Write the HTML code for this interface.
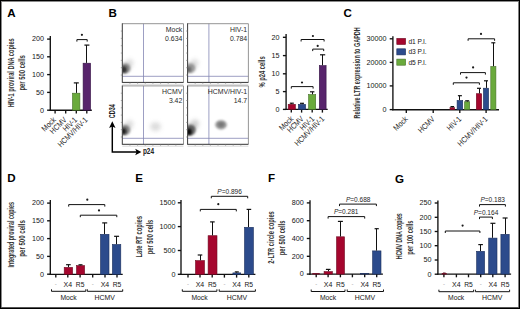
<!DOCTYPE html>
<html><head><meta charset="utf-8"><title>Figure</title>
<style>
html,body{margin:0;padding:0;background:#fff;}
body{width:520px;height:309px;overflow:hidden;}
svg{display:block;font-family:"Liberation Sans",sans-serif;}
</style></head>
<body>
<svg width="520" height="309" viewBox="0 0 520 309">
<rect x="0" y="0" width="520" height="309" fill="#fff"/>
<text x="7.3" y="17.2" font-size="11.6" font-weight="bold" fill="#000">A</text>
<text x="108.5" y="17.3" font-size="11.6" font-weight="bold" fill="#000">B</text>
<text x="343.4" y="17.4" font-size="11.6" font-weight="bold" fill="#000">C</text>
<text x="7.3" y="182.3" font-size="11.6" font-weight="bold" fill="#000">D</text>
<text x="135.3" y="182.4" font-size="11.6" font-weight="bold" fill="#000">E</text>
<text x="268.1" y="182.4" font-size="11.6" font-weight="bold" fill="#000">F</text>
<text x="395.1" y="182.5" font-size="11.6" font-weight="bold" fill="#000">G</text>
<line x1="50.3" y1="36" x2="50.3" y2="110.88" stroke="#111" stroke-width="1.35"/>
<line x1="47.1" y1="110.2" x2="50.3" y2="110.2" stroke="#111" stroke-width="1.35"/>
<text x="44" y="112.55" font-size="7" text-anchor="end" fill="#151515" font-weight="normal" textLength="4" lengthAdjust="spacingAndGlyphs" style="">0</text>
<line x1="47.1" y1="92.4" x2="50.3" y2="92.4" stroke="#111" stroke-width="1.35"/>
<text x="44" y="94.75" font-size="7" text-anchor="end" fill="#151515" font-weight="normal" textLength="8" lengthAdjust="spacingAndGlyphs" style="">50</text>
<line x1="47.1" y1="74.6" x2="50.3" y2="74.6" stroke="#111" stroke-width="1.35"/>
<text x="44" y="76.95" font-size="7" text-anchor="end" fill="#151515" font-weight="normal" textLength="12" lengthAdjust="spacingAndGlyphs" style="">100</text>
<line x1="47.1" y1="56.8" x2="50.3" y2="56.8" stroke="#111" stroke-width="1.35"/>
<text x="44" y="59.15" font-size="7" text-anchor="end" fill="#151515" font-weight="normal" textLength="12" lengthAdjust="spacingAndGlyphs" style="">150</text>
<line x1="47.1" y1="39.1" x2="50.3" y2="39.1" stroke="#111" stroke-width="1.35"/>
<text x="44" y="41.45" font-size="7" text-anchor="end" fill="#151515" font-weight="normal" textLength="12" lengthAdjust="spacingAndGlyphs" style="">200</text>
<line x1="49.62" y1="110.2" x2="91.8" y2="110.2" stroke="#111" stroke-width="1.35"/>
<line x1="55.1" y1="110.2" x2="55.1" y2="113.4" stroke="#111" stroke-width="1.35"/>
<line x1="65.7" y1="110.2" x2="65.7" y2="113.4" stroke="#111" stroke-width="1.35"/>
<line x1="76.3" y1="110.2" x2="76.3" y2="113.4" stroke="#111" stroke-width="1.35"/>
<line x1="86.8" y1="110.2" x2="86.8" y2="113.4" stroke="#111" stroke-width="1.35"/>
<rect x="72.5" y="93.2" width="7.4" height="17" fill="#6aaa3c" stroke="#456f27" stroke-width="0.6"/>
<line x1="76.5" y1="82.9" x2="76.5" y2="92.9" stroke="#111" stroke-width="1"/>
<line x1="73.8" y1="82.9" x2="78.8" y2="82.9" stroke="#111" stroke-width="1.2"/>
<rect x="83.1" y="63.2" width="7.5" height="47" fill="#58246c" stroke="#351545" stroke-width="0.6"/>
<line x1="86.5" y1="45.1" x2="86.5" y2="62.9" stroke="#111" stroke-width="1"/>
<line x1="84.4" y1="45.1" x2="89.4" y2="45.1" stroke="#111" stroke-width="1.2"/>
<path d="M76.9 41.6 V39.6 H87.2 V41.6" fill="none" stroke="#111" stroke-width="1"/>
<circle cx="81.9" cy="34.8" r="1.1" fill="#1a1a1a"/>
<text transform="translate(14.2,72.85) rotate(-90)" x="0" y="0" font-size="8.6" font-weight="bold" text-anchor="middle" fill="#333" textLength="68.9" lengthAdjust="spacingAndGlyphs">HIV-1 proviral DNA copies</text>
<text transform="translate(24.9,72.85) rotate(-90)" x="0" y="0" font-size="8.6" font-weight="bold" text-anchor="middle" fill="#333" textLength="35.3" lengthAdjust="spacingAndGlyphs">per 500 cells</text>
<text transform="translate(56.5,120.4) rotate(-45)" x="0" y="0" font-size="8" font-weight="normal" text-anchor="end" fill="#1e1e1e" textLength="16.56" lengthAdjust="spacingAndGlyphs">Mock</text>
<text transform="translate(67.1,120.4) rotate(-45)" x="0" y="0" font-size="8" font-weight="normal" text-anchor="end" fill="#1e1e1e" textLength="19.78" lengthAdjust="spacingAndGlyphs">HCMV</text>
<text transform="translate(77.7,120.4) rotate(-45)" x="0" y="0" font-size="8" font-weight="normal" text-anchor="end" fill="#1e1e1e" textLength="16.56" lengthAdjust="spacingAndGlyphs">HIV-1</text>
<text transform="translate(88.2,120.4) rotate(-45)" x="0" y="0" font-size="8" font-weight="normal" text-anchor="end" fill="#1e1e1e" textLength="38.64" lengthAdjust="spacingAndGlyphs">HCMV/HIV-1</text>
<defs><filter id="b2" x="-80%" y="-80%" width="260%" height="260%"><feGaussianBlur stdDeviation="2.0"/></filter><filter id="b1" x="-80%" y="-80%" width="260%" height="260%"><feGaussianBlur stdDeviation="1.3"/></filter><clipPath id="c1"><rect x="122.5" y="24" width="61" height="58.3"/></clipPath><clipPath id="c2"><rect x="188" y="24" width="60.5" height="58.3"/></clipPath><clipPath id="c3"><rect x="122.5" y="86.3" width="61" height="57.8"/></clipPath><clipPath id="c4"><rect x="188" y="86.3" width="60.5" height="57.8"/></clipPath></defs>
<g clip-path="url(#c1)">
<ellipse cx="128" cy="65" rx="6.5" ry="4" fill="#aaa" opacity="0.45" filter="url(#b2)" transform="rotate(-50 128 65)"/>
<ellipse cx="125.2" cy="68.4" rx="5.2" ry="5.2" fill="#6a6a6a" opacity="0.75" filter="url(#b1)"/>
<ellipse cx="123.8" cy="69.6" rx="3" ry="3.4" fill="#1a1a1a" opacity="0.8" filter="url(#b1)"/>
</g>
<line x1="143.5" y1="23.7" x2="143.5" y2="82.4" stroke="#8486b4" stroke-width="0.8"/>
<line x1="122.3" y1="76.3" x2="183.5" y2="76.3" stroke="#8486b4" stroke-width="0.8"/>
<line x1="122.3" y1="23.7" x2="183.5" y2="23.7" stroke="#8a8a8a" stroke-width="0.9"/>
<line x1="183.5" y1="23.7" x2="183.5" y2="82.4" stroke="#8a8a8a" stroke-width="0.9"/>
<line x1="122.3" y1="23.3" x2="122.3" y2="82.8" stroke="#3a3a3a" stroke-width="1"/>
<line x1="122.3" y1="82.4" x2="183.5" y2="82.4" stroke="#333" stroke-width="1"/>
<line x1="120.8" y1="31.04" x2="122.3" y2="31.04" stroke="#777" stroke-width="0.6"/>
<line x1="120.8" y1="38.38" x2="122.3" y2="38.38" stroke="#777" stroke-width="0.6"/>
<line x1="120.8" y1="45.71" x2="122.3" y2="45.71" stroke="#777" stroke-width="0.6"/>
<line x1="120.8" y1="53.05" x2="122.3" y2="53.05" stroke="#777" stroke-width="0.6"/>
<line x1="120.8" y1="60.39" x2="122.3" y2="60.39" stroke="#777" stroke-width="0.6"/>
<line x1="120.8" y1="67.73" x2="122.3" y2="67.73" stroke="#777" stroke-width="0.6"/>
<line x1="120.8" y1="75.06" x2="122.3" y2="75.06" stroke="#777" stroke-width="0.6"/>
<line x1="129.95" y1="82.4" x2="129.95" y2="83.9" stroke="#777" stroke-width="0.6"/>
<line x1="137.6" y1="82.4" x2="137.6" y2="83.9" stroke="#777" stroke-width="0.6"/>
<line x1="145.25" y1="82.4" x2="145.25" y2="83.9" stroke="#777" stroke-width="0.6"/>
<line x1="152.9" y1="82.4" x2="152.9" y2="83.9" stroke="#777" stroke-width="0.6"/>
<line x1="160.55" y1="82.4" x2="160.55" y2="83.9" stroke="#777" stroke-width="0.6"/>
<line x1="168.2" y1="82.4" x2="168.2" y2="83.9" stroke="#777" stroke-width="0.6"/>
<line x1="175.85" y1="82.4" x2="175.85" y2="83.9" stroke="#777" stroke-width="0.6"/>
<line x1="122.3" y1="84.3" x2="183.5" y2="84.3" stroke="#c8c8c8" stroke-width="0.7"/>
<text x="182.3" y="31.6" font-size="6.9" text-anchor="end" fill="#2a2a2a" font-weight="normal" style="">Mock</text>
<text x="182.3" y="40.9" font-size="6.9" text-anchor="end" fill="#2a2a2a" font-weight="normal" style="">0.634</text>
<g clip-path="url(#c2)">
<ellipse cx="193" cy="65" rx="6.5" ry="4" fill="#aaa" opacity="0.45" filter="url(#b2)" transform="rotate(-50 193 65)"/>
<ellipse cx="190.4" cy="68.3" rx="5" ry="5" fill="#777" opacity="0.65" filter="url(#b1)"/>
<ellipse cx="188.8" cy="69.5" rx="2.6" ry="3" fill="#444" opacity="0.6" filter="url(#b1)"/>
</g>
<line x1="208.9" y1="23.7" x2="208.9" y2="82.4" stroke="#8486b4" stroke-width="0.8"/>
<line x1="187.6" y1="76.3" x2="248.4" y2="76.3" stroke="#8486b4" stroke-width="0.8"/>
<line x1="187.6" y1="23.7" x2="248.4" y2="23.7" stroke="#8a8a8a" stroke-width="0.9"/>
<line x1="248.4" y1="23.7" x2="248.4" y2="82.4" stroke="#8a8a8a" stroke-width="0.9"/>
<line x1="187.6" y1="23.3" x2="187.6" y2="82.8" stroke="#3a3a3a" stroke-width="1"/>
<line x1="187.6" y1="82.4" x2="248.4" y2="82.4" stroke="#333" stroke-width="1"/>
<line x1="186.1" y1="31.04" x2="187.6" y2="31.04" stroke="#777" stroke-width="0.6"/>
<line x1="186.1" y1="38.38" x2="187.6" y2="38.38" stroke="#777" stroke-width="0.6"/>
<line x1="186.1" y1="45.71" x2="187.6" y2="45.71" stroke="#777" stroke-width="0.6"/>
<line x1="186.1" y1="53.05" x2="187.6" y2="53.05" stroke="#777" stroke-width="0.6"/>
<line x1="186.1" y1="60.39" x2="187.6" y2="60.39" stroke="#777" stroke-width="0.6"/>
<line x1="186.1" y1="67.73" x2="187.6" y2="67.73" stroke="#777" stroke-width="0.6"/>
<line x1="186.1" y1="75.06" x2="187.6" y2="75.06" stroke="#777" stroke-width="0.6"/>
<line x1="195.2" y1="82.4" x2="195.2" y2="83.9" stroke="#777" stroke-width="0.6"/>
<line x1="202.8" y1="82.4" x2="202.8" y2="83.9" stroke="#777" stroke-width="0.6"/>
<line x1="210.4" y1="82.4" x2="210.4" y2="83.9" stroke="#777" stroke-width="0.6"/>
<line x1="218" y1="82.4" x2="218" y2="83.9" stroke="#777" stroke-width="0.6"/>
<line x1="225.6" y1="82.4" x2="225.6" y2="83.9" stroke="#777" stroke-width="0.6"/>
<line x1="233.2" y1="82.4" x2="233.2" y2="83.9" stroke="#777" stroke-width="0.6"/>
<line x1="240.8" y1="82.4" x2="240.8" y2="83.9" stroke="#777" stroke-width="0.6"/>
<line x1="187.6" y1="84.3" x2="248.4" y2="84.3" stroke="#c8c8c8" stroke-width="0.7"/>
<text x="247.2" y="31.6" font-size="6.9" text-anchor="end" fill="#2a2a2a" font-weight="normal" style="">HIV-1</text>
<text x="247.2" y="40.9" font-size="6.9" text-anchor="end" fill="#2a2a2a" font-weight="normal" style="">0.784</text>
<g clip-path="url(#c3)">
<ellipse cx="128" cy="126" rx="6.5" ry="4" fill="#aaa" opacity="0.45" filter="url(#b2)" transform="rotate(-50 128 126)"/>
<ellipse cx="125" cy="130" rx="5.2" ry="5.2" fill="#646464" opacity="0.75" filter="url(#b1)"/>
<ellipse cx="123.6" cy="131.3" rx="2.8" ry="3.2" fill="#111" opacity="0.85" filter="url(#b1)"/>
<ellipse cx="155.5" cy="126.6" rx="5.4" ry="4.4" fill="#c4c4c4" opacity="0.6" filter="url(#b2)"/>
</g>
<line x1="143.5" y1="85.9" x2="143.5" y2="144.3" stroke="#8486b4" stroke-width="0.8"/>
<line x1="122.3" y1="138.3" x2="183.5" y2="138.3" stroke="#8486b4" stroke-width="0.8"/>
<line x1="122.3" y1="85.9" x2="183.5" y2="85.9" stroke="#8a8a8a" stroke-width="0.9"/>
<line x1="183.5" y1="85.9" x2="183.5" y2="144.3" stroke="#8a8a8a" stroke-width="0.9"/>
<line x1="122.3" y1="85.5" x2="122.3" y2="144.7" stroke="#3a3a3a" stroke-width="1"/>
<line x1="122.3" y1="144.3" x2="183.5" y2="144.3" stroke="#333" stroke-width="1"/>
<line x1="120.8" y1="93.2" x2="122.3" y2="93.2" stroke="#777" stroke-width="0.6"/>
<line x1="120.8" y1="100.5" x2="122.3" y2="100.5" stroke="#777" stroke-width="0.6"/>
<line x1="120.8" y1="107.8" x2="122.3" y2="107.8" stroke="#777" stroke-width="0.6"/>
<line x1="120.8" y1="115.1" x2="122.3" y2="115.1" stroke="#777" stroke-width="0.6"/>
<line x1="120.8" y1="122.4" x2="122.3" y2="122.4" stroke="#777" stroke-width="0.6"/>
<line x1="120.8" y1="129.7" x2="122.3" y2="129.7" stroke="#777" stroke-width="0.6"/>
<line x1="120.8" y1="137" x2="122.3" y2="137" stroke="#777" stroke-width="0.6"/>
<line x1="129.95" y1="144.3" x2="129.95" y2="145.8" stroke="#777" stroke-width="0.6"/>
<line x1="137.6" y1="144.3" x2="137.6" y2="145.8" stroke="#777" stroke-width="0.6"/>
<line x1="145.25" y1="144.3" x2="145.25" y2="145.8" stroke="#777" stroke-width="0.6"/>
<line x1="152.9" y1="144.3" x2="152.9" y2="145.8" stroke="#777" stroke-width="0.6"/>
<line x1="160.55" y1="144.3" x2="160.55" y2="145.8" stroke="#777" stroke-width="0.6"/>
<line x1="168.2" y1="144.3" x2="168.2" y2="145.8" stroke="#777" stroke-width="0.6"/>
<line x1="175.85" y1="144.3" x2="175.85" y2="145.8" stroke="#777" stroke-width="0.6"/>
<line x1="122.3" y1="146.2" x2="183.5" y2="146.2" stroke="#c8c8c8" stroke-width="0.7"/>
<text x="182.3" y="93.8" font-size="6.9" text-anchor="end" fill="#2a2a2a" font-weight="normal" style="">HCMV</text>
<text x="182.3" y="103.1" font-size="6.9" text-anchor="end" fill="#2a2a2a" font-weight="normal" style="">3.42</text>
<g clip-path="url(#c4)">
<ellipse cx="193.5" cy="125.5" rx="6.5" ry="4.2" fill="#999" opacity="0.5" filter="url(#b2)" transform="rotate(-50 193.5 125.5)"/>
<ellipse cx="190.3" cy="130" rx="5.4" ry="5.6" fill="#444" opacity="0.8" filter="url(#b1)"/>
<ellipse cx="189" cy="131.8" rx="2.8" ry="3.4" fill="#000" opacity="0.9" filter="url(#b1)"/>
<ellipse cx="221" cy="124.8" rx="5.8" ry="4.6" fill="#858585" opacity="0.85" filter="url(#b1)"/>
<ellipse cx="221" cy="124.6" rx="3" ry="2.4" fill="#555" opacity="0.5" filter="url(#b1)"/>
</g>
<line x1="208.9" y1="85.9" x2="208.9" y2="144.3" stroke="#8486b4" stroke-width="0.8"/>
<line x1="187.6" y1="138.3" x2="248.4" y2="138.3" stroke="#8486b4" stroke-width="0.8"/>
<line x1="187.6" y1="85.9" x2="248.4" y2="85.9" stroke="#8a8a8a" stroke-width="0.9"/>
<line x1="248.4" y1="85.9" x2="248.4" y2="144.3" stroke="#8a8a8a" stroke-width="0.9"/>
<line x1="187.6" y1="85.5" x2="187.6" y2="144.7" stroke="#3a3a3a" stroke-width="1"/>
<line x1="187.6" y1="144.3" x2="248.4" y2="144.3" stroke="#333" stroke-width="1"/>
<line x1="186.1" y1="93.2" x2="187.6" y2="93.2" stroke="#777" stroke-width="0.6"/>
<line x1="186.1" y1="100.5" x2="187.6" y2="100.5" stroke="#777" stroke-width="0.6"/>
<line x1="186.1" y1="107.8" x2="187.6" y2="107.8" stroke="#777" stroke-width="0.6"/>
<line x1="186.1" y1="115.1" x2="187.6" y2="115.1" stroke="#777" stroke-width="0.6"/>
<line x1="186.1" y1="122.4" x2="187.6" y2="122.4" stroke="#777" stroke-width="0.6"/>
<line x1="186.1" y1="129.7" x2="187.6" y2="129.7" stroke="#777" stroke-width="0.6"/>
<line x1="186.1" y1="137" x2="187.6" y2="137" stroke="#777" stroke-width="0.6"/>
<line x1="195.2" y1="144.3" x2="195.2" y2="145.8" stroke="#777" stroke-width="0.6"/>
<line x1="202.8" y1="144.3" x2="202.8" y2="145.8" stroke="#777" stroke-width="0.6"/>
<line x1="210.4" y1="144.3" x2="210.4" y2="145.8" stroke="#777" stroke-width="0.6"/>
<line x1="218" y1="144.3" x2="218" y2="145.8" stroke="#777" stroke-width="0.6"/>
<line x1="225.6" y1="144.3" x2="225.6" y2="145.8" stroke="#777" stroke-width="0.6"/>
<line x1="233.2" y1="144.3" x2="233.2" y2="145.8" stroke="#777" stroke-width="0.6"/>
<line x1="240.8" y1="144.3" x2="240.8" y2="145.8" stroke="#777" stroke-width="0.6"/>
<line x1="187.6" y1="146.2" x2="248.4" y2="146.2" stroke="#c8c8c8" stroke-width="0.7"/>
<text x="247.2" y="93.8" font-size="6.9" text-anchor="end" fill="#2a2a2a" font-weight="normal" style="">HCMV/HIV-1</text>
<text x="247.2" y="103.1" font-size="6.9" text-anchor="end" fill="#2a2a2a" font-weight="normal" style="">14.7</text>
<path d="M112.3 124.5 V152 H137.5" fill="none" stroke="#000" stroke-width="1.45"/>
<path d="M109.1 127.9 L112.3 121.2 L115.5 127.9 L112.3 126.6 Z" fill="#000"/>
<path d="M135.2 148.8 L141.4 152 L135.2 155.2 L136.6 152 Z" fill="#000"/>
<text transform="translate(115.0,111.2) rotate(-90)" font-size="9.0" font-weight="bold" text-anchor="middle" fill="#222" textLength="14.0" lengthAdjust="spacingAndGlyphs">CD34</text>
<text x="142.9" y="154.2" font-size="8.6" text-anchor="start" fill="#222" font-weight="bold" textLength="11.2" lengthAdjust="spacingAndGlyphs" style="">p24</text>
<line x1="286.1" y1="34.1" x2="286.1" y2="110.08" stroke="#111" stroke-width="1.35"/>
<line x1="282.9" y1="109.4" x2="286.1" y2="109.4" stroke="#111" stroke-width="1.35"/>
<text x="279.6" y="111.75" font-size="7" text-anchor="end" fill="#151515" font-weight="normal" textLength="4" lengthAdjust="spacingAndGlyphs" style="">0</text>
<line x1="282.9" y1="91.6" x2="286.1" y2="91.6" stroke="#111" stroke-width="1.35"/>
<text x="279.6" y="93.95" font-size="7" text-anchor="end" fill="#151515" font-weight="normal" textLength="4" lengthAdjust="spacingAndGlyphs" style="">5</text>
<line x1="282.9" y1="73.8" x2="286.1" y2="73.8" stroke="#111" stroke-width="1.35"/>
<text x="279.6" y="76.15" font-size="7" text-anchor="end" fill="#151515" font-weight="normal" textLength="8" lengthAdjust="spacingAndGlyphs" style="">10</text>
<line x1="282.9" y1="55.6" x2="286.1" y2="55.6" stroke="#111" stroke-width="1.35"/>
<text x="279.6" y="57.95" font-size="7" text-anchor="end" fill="#151515" font-weight="normal" textLength="8" lengthAdjust="spacingAndGlyphs" style="">15</text>
<line x1="282.9" y1="37.3" x2="286.1" y2="37.3" stroke="#111" stroke-width="1.35"/>
<text x="279.6" y="39.65" font-size="7" text-anchor="end" fill="#151515" font-weight="normal" textLength="8" lengthAdjust="spacingAndGlyphs" style="">20</text>
<line x1="285.43" y1="109.4" x2="327.7" y2="109.4" stroke="#111" stroke-width="1.35"/>
<line x1="291.3" y1="109.4" x2="291.3" y2="112.6" stroke="#111" stroke-width="1.35"/>
<line x1="301.6" y1="109.4" x2="301.6" y2="112.6" stroke="#111" stroke-width="1.35"/>
<line x1="312.2" y1="109.4" x2="312.2" y2="112.6" stroke="#111" stroke-width="1.35"/>
<line x1="322.4" y1="109.4" x2="322.4" y2="112.6" stroke="#111" stroke-width="1.35"/>
<rect x="288.2" y="104.3" width="7.2" height="5.1" fill="#a5062e" stroke="#6e0b22" stroke-width="0.6"/>
<line x1="291.5" y1="103.2" x2="291.5" y2="104" stroke="#111" stroke-width="1"/>
<line x1="289.8" y1="103.2" x2="293.8" y2="103.2" stroke="#111" stroke-width="1.2"/>
<rect x="298.4" y="104.4" width="7.2" height="5" fill="#2c4b8c" stroke="#1c2f5c" stroke-width="0.6"/>
<line x1="302.5" y1="103.3" x2="302.5" y2="104.1" stroke="#111" stroke-width="1"/>
<line x1="300" y1="103.3" x2="304" y2="103.3" stroke="#111" stroke-width="1.2"/>
<rect x="308.6" y="94.6" width="7.1" height="14.8" fill="#6aaa3c" stroke="#456f27" stroke-width="0.6"/>
<line x1="312.5" y1="91.8" x2="312.5" y2="94.3" stroke="#111" stroke-width="1"/>
<line x1="310" y1="91.8" x2="314.4" y2="91.8" stroke="#111" stroke-width="1.2"/>
<rect x="319.3" y="65.6" width="6.8" height="43.8" fill="#58246c" stroke="#351545" stroke-width="0.6"/>
<line x1="322.5" y1="54.8" x2="322.5" y2="65.3" stroke="#111" stroke-width="1"/>
<line x1="320" y1="54.8" x2="325.2" y2="54.8" stroke="#111" stroke-width="1.2"/>
<path d="M291.3 88.6 V86.6 H313.1 V88.6" fill="none" stroke="#111" stroke-width="1"/>
<circle cx="302" cy="82.5" r="1.1" fill="#1a1a1a"/>
<path d="M301.1 41.5 V39.5 H324.1 V41.5" fill="none" stroke="#111" stroke-width="1"/>
<circle cx="312.9" cy="36" r="1.1" fill="#1a1a1a"/>
<path d="M312.7 51.1 V49.1 H323.7 V51.1" fill="none" stroke="#111" stroke-width="1"/>
<circle cx="317.7" cy="45.9" r="1.1" fill="#1a1a1a"/>
<text transform="translate(265.2,71.95) rotate(-90)" x="0" y="0" font-size="8.6" font-weight="bold" text-anchor="middle" fill="#333" textLength="31.3" lengthAdjust="spacingAndGlyphs">% p24 cells</text>
<text transform="translate(293.9,119.3) rotate(-45)" x="0" y="0" font-size="8" font-weight="normal" text-anchor="end" fill="#1e1e1e" textLength="16.56" lengthAdjust="spacingAndGlyphs">Mock</text>
<text transform="translate(304.2,119.3) rotate(-45)" x="0" y="0" font-size="8" font-weight="normal" text-anchor="end" fill="#1e1e1e" textLength="19.78" lengthAdjust="spacingAndGlyphs">HCMV</text>
<text transform="translate(314.8,119.3) rotate(-45)" x="0" y="0" font-size="8" font-weight="normal" text-anchor="end" fill="#1e1e1e" textLength="16.56" lengthAdjust="spacingAndGlyphs">HIV-1</text>
<text transform="translate(325,119.3) rotate(-45)" x="0" y="0" font-size="8" font-weight="normal" text-anchor="end" fill="#1e1e1e" textLength="38.64" lengthAdjust="spacingAndGlyphs">HCMV/HIV-1</text>
<line x1="392.9" y1="36.2" x2="392.9" y2="110.27" stroke="#111" stroke-width="1.35"/>
<line x1="389.7" y1="109.6" x2="392.9" y2="109.6" stroke="#111" stroke-width="1.35"/>
<text x="386.4" y="111.95" font-size="7" text-anchor="end" fill="#151515" font-weight="normal" textLength="4" lengthAdjust="spacingAndGlyphs" style="">0</text>
<line x1="389.7" y1="85.9" x2="392.9" y2="85.9" stroke="#111" stroke-width="1.35"/>
<text x="386.4" y="88.25" font-size="7" text-anchor="end" fill="#151515" font-weight="normal" textLength="20" lengthAdjust="spacingAndGlyphs" style="">10000</text>
<line x1="389.7" y1="62.4" x2="392.9" y2="62.4" stroke="#111" stroke-width="1.35"/>
<text x="386.4" y="64.75" font-size="7" text-anchor="end" fill="#151515" font-weight="normal" textLength="20" lengthAdjust="spacingAndGlyphs" style="">20000</text>
<line x1="389.7" y1="38.8" x2="392.9" y2="38.8" stroke="#111" stroke-width="1.35"/>
<text x="386.4" y="41.15" font-size="7" text-anchor="end" fill="#151515" font-weight="normal" textLength="20" lengthAdjust="spacingAndGlyphs" style="">30000</text>
<line x1="392.22" y1="109.7" x2="499" y2="109.7" stroke="#111" stroke-width="1.35"/>
<line x1="406.3" y1="109.7" x2="406.3" y2="112.9" stroke="#111" stroke-width="1.35"/>
<line x1="433.2" y1="109.7" x2="433.2" y2="112.9" stroke="#111" stroke-width="1.35"/>
<line x1="459.8" y1="109.7" x2="459.8" y2="112.9" stroke="#111" stroke-width="1.35"/>
<line x1="486.1" y1="109.7" x2="486.1" y2="112.9" stroke="#111" stroke-width="1.35"/>
<rect x="396.8" y="38.4" width="8.8" height="6.1" fill="#a5062e" stroke="#6e0b22" stroke-width="0.6"/>
<rect x="396.8" y="48.8" width="8.8" height="6.1" fill="#2c4b8c" stroke="#1c2f5c" stroke-width="0.6"/>
<rect x="396.8" y="59.1" width="8.8" height="6.1" fill="#6aaa3c" stroke="#456f27" stroke-width="0.6"/>
<text x="408.4" y="44" font-size="6.6" text-anchor="start" fill="#151515" font-weight="normal" textLength="18.3" lengthAdjust="spacingAndGlyphs" style="">d1 P.I.</text>
<text x="408.4" y="54.4" font-size="6.6" text-anchor="start" fill="#151515" font-weight="normal" textLength="18.3" lengthAdjust="spacingAndGlyphs" style="">d3 P.I.</text>
<text x="408.4" y="64.7" font-size="6.6" text-anchor="start" fill="#151515" font-weight="normal" textLength="18.3" lengthAdjust="spacingAndGlyphs" style="">d5 P.I.</text>
<rect x="450" y="107.6" width="4.6" height="2.1" fill="#a5062e" stroke="#6e0b22" stroke-width="0.6"/>
<line x1="452.5" y1="106.6" x2="452.5" y2="107.3" stroke="#111" stroke-width="1"/>
<line x1="450.5" y1="106.6" x2="454.1" y2="106.6" stroke="#111" stroke-width="1.2"/>
<rect x="457.1" y="100.5" width="5.6" height="9.2" fill="#2c4b8c" stroke="#1c2f5c" stroke-width="0.6"/>
<line x1="459.5" y1="95.7" x2="459.5" y2="100.2" stroke="#111" stroke-width="1"/>
<line x1="457.9" y1="95.7" x2="461.9" y2="95.7" stroke="#111" stroke-width="1.2"/>
<rect x="464.6" y="101.8" width="5.1" height="7.9" fill="#6aaa3c" stroke="#456f27" stroke-width="0.6"/>
<line x1="467.5" y1="100.8" x2="467.5" y2="101.5" stroke="#111" stroke-width="1"/>
<line x1="465.2" y1="100.8" x2="469.2" y2="100.8" stroke="#111" stroke-width="1.2"/>
<rect x="476.3" y="93.7" width="5.4" height="16" fill="#a5062e" stroke="#6e0b22" stroke-width="0.6"/>
<line x1="479.5" y1="88.3" x2="479.5" y2="93.4" stroke="#111" stroke-width="1"/>
<line x1="477" y1="88.3" x2="481" y2="88.3" stroke="#111" stroke-width="1.2"/>
<rect x="483.4" y="88.2" width="5.2" height="21.5" fill="#2c4b8c" stroke="#1c2f5c" stroke-width="0.6"/>
<line x1="486.5" y1="80.8" x2="486.5" y2="87.9" stroke="#111" stroke-width="1"/>
<line x1="484" y1="80.8" x2="488" y2="80.8" stroke="#111" stroke-width="1.2"/>
<rect x="490.8" y="66.5" width="5.1" height="43.2" fill="#6aaa3c" stroke="#456f27" stroke-width="0.6"/>
<line x1="493.5" y1="42.8" x2="493.5" y2="66.2" stroke="#111" stroke-width="1"/>
<line x1="491.3" y1="42.8" x2="495.3" y2="42.8" stroke="#111" stroke-width="1.2"/>
<path d="M453.3 84.8 V82.8 H479.4 V84.8" fill="none" stroke="#111" stroke-width="1"/>
<circle cx="466.5" cy="77.6" r="1.1" fill="#1a1a1a"/>
<path d="M460.5 74.6 V72.6 H485.4 V74.6" fill="none" stroke="#111" stroke-width="1"/>
<circle cx="473.1" cy="67.4" r="1.1" fill="#1a1a1a"/>
<path d="M468.1 40.8 V38.8 H494.6 V40.8" fill="none" stroke="#111" stroke-width="1"/>
<circle cx="481" cy="33.9" r="1.1" fill="#1a1a1a"/>
<text transform="translate(360.3,72.85) rotate(-90)" x="0" y="0" font-size="8.6" font-weight="bold" text-anchor="middle" fill="#333" textLength="91.1" lengthAdjust="spacingAndGlyphs">Relative LTR expression to GAPDH</text>
<text transform="translate(408.3,119.6) rotate(-45)" x="0" y="0" font-size="8" font-weight="normal" text-anchor="end" fill="#1e1e1e" textLength="16.56" lengthAdjust="spacingAndGlyphs">Mock</text>
<text transform="translate(435.2,119.6) rotate(-45)" x="0" y="0" font-size="8" font-weight="normal" text-anchor="end" fill="#1e1e1e" textLength="19.78" lengthAdjust="spacingAndGlyphs">HCMV</text>
<text transform="translate(461.8,119.6) rotate(-45)" x="0" y="0" font-size="8" font-weight="normal" text-anchor="end" fill="#1e1e1e" textLength="16.56" lengthAdjust="spacingAndGlyphs">HIV-1</text>
<text transform="translate(488.1,119.6) rotate(-45)" x="0" y="0" font-size="8" font-weight="normal" text-anchor="end" fill="#1e1e1e" textLength="38.64" lengthAdjust="spacingAndGlyphs">HCMV/HIV-1</text>
<line x1="50.3" y1="200.1" x2="50.3" y2="274.98" stroke="#111" stroke-width="1.35"/>
<line x1="47.1" y1="274.2" x2="50.3" y2="274.2" stroke="#111" stroke-width="1.35"/>
<text x="44" y="276.55" font-size="7" text-anchor="end" fill="#151515" font-weight="normal" textLength="4" lengthAdjust="spacingAndGlyphs" style="">0</text>
<line x1="47.1" y1="256.4" x2="50.3" y2="256.4" stroke="#111" stroke-width="1.35"/>
<text x="44" y="258.75" font-size="7" text-anchor="end" fill="#151515" font-weight="normal" textLength="8" lengthAdjust="spacingAndGlyphs" style="">50</text>
<line x1="47.1" y1="238.6" x2="50.3" y2="238.6" stroke="#111" stroke-width="1.35"/>
<text x="44" y="240.95" font-size="7" text-anchor="end" fill="#151515" font-weight="normal" textLength="12" lengthAdjust="spacingAndGlyphs" style="">100</text>
<line x1="47.1" y1="220.8" x2="50.3" y2="220.8" stroke="#111" stroke-width="1.35"/>
<text x="44" y="223.15" font-size="7" text-anchor="end" fill="#151515" font-weight="normal" textLength="12" lengthAdjust="spacingAndGlyphs" style="">150</text>
<line x1="47.1" y1="203.1" x2="50.3" y2="203.1" stroke="#111" stroke-width="1.35"/>
<text x="44" y="205.45" font-size="7" text-anchor="end" fill="#151515" font-weight="normal" textLength="12" lengthAdjust="spacingAndGlyphs" style="">200</text>
<line x1="49.62" y1="274.3" x2="122.7" y2="274.3" stroke="#111" stroke-width="1.35"/>
<line x1="55.8" y1="274.3" x2="55.8" y2="277.5" stroke="#111" stroke-width="1.35"/>
<line x1="67.8" y1="274.3" x2="67.8" y2="277.5" stroke="#111" stroke-width="1.35"/>
<line x1="80.1" y1="274.3" x2="80.1" y2="277.5" stroke="#111" stroke-width="1.35"/>
<line x1="92.7" y1="274.3" x2="92.7" y2="277.5" stroke="#111" stroke-width="1.35"/>
<line x1="105" y1="274.3" x2="105" y2="277.5" stroke="#111" stroke-width="1.35"/>
<line x1="117" y1="274.3" x2="117" y2="277.5" stroke="#111" stroke-width="1.35"/>
<rect x="64.2" y="267.4" width="8.4" height="6.9" fill="#a5062e" stroke="#6e0b22" stroke-width="0.6"/>
<line x1="68.5" y1="264.7" x2="68.5" y2="267.1" stroke="#111" stroke-width="1"/>
<line x1="66.1" y1="264.7" x2="70.7" y2="264.7" stroke="#111" stroke-width="1.2"/>
<rect x="76.5" y="265.6" width="8.1" height="8.7" fill="#a5062e" stroke="#6e0b22" stroke-width="0.6"/>
<line x1="80.5" y1="264.8" x2="80.5" y2="265.3" stroke="#111" stroke-width="1"/>
<line x1="78.5" y1="264.8" x2="82.5" y2="264.8" stroke="#111" stroke-width="1.2"/>
<rect x="100.5" y="234.3" width="8.5" height="40" fill="#2c4b8c" stroke="#1c2f5c" stroke-width="0.6"/>
<line x1="104.5" y1="222.9" x2="104.5" y2="234" stroke="#111" stroke-width="1"/>
<line x1="102.2" y1="222.9" x2="107.2" y2="222.9" stroke="#111" stroke-width="1.2"/>
<rect x="112.4" y="244.5" width="8.4" height="29.8" fill="#2c4b8c" stroke="#1c2f5c" stroke-width="0.6"/>
<line x1="116.5" y1="236.3" x2="116.5" y2="244.2" stroke="#111" stroke-width="1"/>
<line x1="114.1" y1="236.3" x2="119.1" y2="236.3" stroke="#111" stroke-width="1.2"/>
<path d="M68.7 206.6 V204.6 H104.8 V206.6" fill="none" stroke="#111" stroke-width="1"/>
<circle cx="87.3" cy="199.7" r="1.1" fill="#1a1a1a"/>
<path d="M80.3 217.2 V215.2 H116.8 V217.2" fill="none" stroke="#111" stroke-width="1"/>
<circle cx="99" cy="210.4" r="1.1" fill="#1a1a1a"/>
<text transform="translate(14.2,234.85) rotate(-90)" x="0" y="0" font-size="8.6" font-weight="bold" text-anchor="middle" fill="#333" textLength="65.5" lengthAdjust="spacingAndGlyphs">Integrated proviral copies</text>
<text transform="translate(24.9,238.45) rotate(-90)" x="0" y="0" font-size="8.6" font-weight="bold" text-anchor="middle" fill="#333" textLength="36.5" lengthAdjust="spacingAndGlyphs">per 500 cells</text>
<text x="55.8" y="285.8" font-size="6" text-anchor="middle" fill="#9a9a9a" font-weight="normal" style="">-</text>
<text x="67.8" y="287" font-size="6.8" text-anchor="middle" fill="#151515" font-weight="normal" textLength="8.6" lengthAdjust="spacingAndGlyphs" style="">X4</text>
<text x="80.1" y="287" font-size="6.8" text-anchor="middle" fill="#151515" font-weight="normal" textLength="8.6" lengthAdjust="spacingAndGlyphs" style="">R5</text>
<text x="92.7" y="285.8" font-size="6" text-anchor="middle" fill="#9a9a9a" font-weight="normal" style="">-</text>
<text x="105" y="287" font-size="6.8" text-anchor="middle" fill="#151515" font-weight="normal" textLength="8.6" lengthAdjust="spacingAndGlyphs" style="">X4</text>
<text x="117" y="287" font-size="6.8" text-anchor="middle" fill="#151515" font-weight="normal" textLength="8.6" lengthAdjust="spacingAndGlyphs" style="">R5</text>
<path d="M51.5 289.3 V291.3 H85.8 V289.3" fill="none" stroke="#111" stroke-width="1"/>
<path d="M87.3 289.3 V291.3 H122.7 V289.3" fill="none" stroke="#111" stroke-width="1"/>
<text x="68.55" y="300.2" font-size="7" text-anchor="middle" fill="#151515" font-weight="normal" textLength="16.2" lengthAdjust="spacingAndGlyphs" style="">Mock</text>
<text x="104.6" y="300.2" font-size="7" text-anchor="middle" fill="#151515" font-weight="normal" textLength="20.4" lengthAdjust="spacingAndGlyphs" style="">HCMV</text>
<line x1="181" y1="199.9" x2="181" y2="275.07" stroke="#111" stroke-width="1.35"/>
<line x1="177.8" y1="274.3" x2="181" y2="274.3" stroke="#111" stroke-width="1.35"/>
<text x="175.6" y="276.65" font-size="7" text-anchor="end" fill="#151515" font-weight="normal" textLength="4" lengthAdjust="spacingAndGlyphs" style="">0</text>
<line x1="177.8" y1="250.5" x2="181" y2="250.5" stroke="#111" stroke-width="1.35"/>
<text x="175.6" y="252.85" font-size="7" text-anchor="end" fill="#151515" font-weight="normal" textLength="12" lengthAdjust="spacingAndGlyphs" style="">500</text>
<line x1="177.8" y1="226.6" x2="181" y2="226.6" stroke="#111" stroke-width="1.35"/>
<text x="175.6" y="228.95" font-size="7" text-anchor="end" fill="#151515" font-weight="normal" textLength="16" lengthAdjust="spacingAndGlyphs" style="">1000</text>
<line x1="177.8" y1="202.8" x2="181" y2="202.8" stroke="#111" stroke-width="1.35"/>
<text x="175.6" y="205.15" font-size="7" text-anchor="end" fill="#151515" font-weight="normal" textLength="16" lengthAdjust="spacingAndGlyphs" style="">1500</text>
<line x1="180.32" y1="274.4" x2="255.4" y2="274.4" stroke="#111" stroke-width="1.35"/>
<line x1="188" y1="274.4" x2="188" y2="277.6" stroke="#111" stroke-width="1.35"/>
<line x1="200" y1="274.4" x2="200" y2="277.6" stroke="#111" stroke-width="1.35"/>
<line x1="212.2" y1="274.4" x2="212.2" y2="277.6" stroke="#111" stroke-width="1.35"/>
<line x1="224.4" y1="274.4" x2="224.4" y2="277.6" stroke="#111" stroke-width="1.35"/>
<line x1="236.6" y1="274.4" x2="236.6" y2="277.6" stroke="#111" stroke-width="1.35"/>
<line x1="248.8" y1="274.4" x2="248.8" y2="277.6" stroke="#111" stroke-width="1.35"/>
<rect x="195.5" y="260.6" width="9" height="13.8" fill="#a5062e" stroke="#6e0b22" stroke-width="0.6"/>
<line x1="200.5" y1="255" x2="200.5" y2="260.3" stroke="#111" stroke-width="1"/>
<line x1="197.7" y1="255" x2="202.3" y2="255" stroke="#111" stroke-width="1.2"/>
<rect x="208.1" y="235.7" width="8.9" height="38.7" fill="#a5062e" stroke="#6e0b22" stroke-width="0.6"/>
<line x1="212.5" y1="221.9" x2="212.5" y2="235.4" stroke="#111" stroke-width="1"/>
<line x1="210.1" y1="221.9" x2="214.7" y2="221.9" stroke="#111" stroke-width="1.2"/>
<rect x="232.9" y="272.9" width="7.8" height="1.5" fill="#2c4b8c" stroke="#1c2f5c" stroke-width="0.6"/>
<line x1="236.5" y1="271.9" x2="236.5" y2="272.6" stroke="#111" stroke-width="1"/>
<line x1="234.8" y1="271.9" x2="238.8" y2="271.9" stroke="#111" stroke-width="1.2"/>
<rect x="244.5" y="227.3" width="8.9" height="47.1" fill="#2c4b8c" stroke="#1c2f5c" stroke-width="0.6"/>
<line x1="248.5" y1="209.4" x2="248.5" y2="227" stroke="#111" stroke-width="1"/>
<line x1="246.6" y1="209.4" x2="251.2" y2="209.4" stroke="#111" stroke-width="1.2"/>
<path d="M200.3 211.4 V209.4 H236.3 V211.4" fill="none" stroke="#111" stroke-width="1"/>
<circle cx="218.3" cy="204.2" r="1.1" fill="#1a1a1a"/>
<path d="M211.3 198.3 V196.3 H247.7 V198.3" fill="none" stroke="#111" stroke-width="1"/>
<text x="229.6" y="193.8" font-size="6.4" text-anchor="middle" fill="#1e1e1e" textLength="24.6" lengthAdjust="spacingAndGlyphs"><tspan font-style="italic">P</tspan>=0.896</text>
<text transform="translate(142.1,236.75) rotate(-90)" x="0" y="0" font-size="8.6" font-weight="bold" text-anchor="middle" fill="#333" textLength="41.5" lengthAdjust="spacingAndGlyphs">Late RT copies</text>
<text transform="translate(153.1,237) rotate(-90)" x="0" y="0" font-size="8.6" font-weight="bold" text-anchor="middle" fill="#333" textLength="34.4" lengthAdjust="spacingAndGlyphs">per 500 cells</text>
<text x="188" y="285.8" font-size="6" text-anchor="middle" fill="#9a9a9a" font-weight="normal" style="">-</text>
<text x="200" y="287" font-size="6.8" text-anchor="middle" fill="#151515" font-weight="normal" textLength="8.6" lengthAdjust="spacingAndGlyphs" style="">X4</text>
<text x="212.2" y="287" font-size="6.8" text-anchor="middle" fill="#151515" font-weight="normal" textLength="8.6" lengthAdjust="spacingAndGlyphs" style="">R5</text>
<text x="224.4" y="285.8" font-size="6" text-anchor="middle" fill="#9a9a9a" font-weight="normal" style="">-</text>
<text x="236.6" y="287" font-size="6.8" text-anchor="middle" fill="#151515" font-weight="normal" textLength="8.6" lengthAdjust="spacingAndGlyphs" style="">X4</text>
<text x="248.8" y="287" font-size="6.8" text-anchor="middle" fill="#151515" font-weight="normal" textLength="8.6" lengthAdjust="spacingAndGlyphs" style="">R5</text>
<path d="M182.3 289.3 V291.3 H216.9 V289.3" fill="none" stroke="#111" stroke-width="1"/>
<path d="M219.2 289.3 V291.3 H255.4 V289.3" fill="none" stroke="#111" stroke-width="1"/>
<text x="199.5" y="300.2" font-size="7" text-anchor="middle" fill="#151515" font-weight="normal" textLength="16.2" lengthAdjust="spacingAndGlyphs" style="">Mock</text>
<text x="236.9" y="300.2" font-size="7" text-anchor="middle" fill="#151515" font-weight="normal" textLength="20.4" lengthAdjust="spacingAndGlyphs" style="">HCMV</text>
<line x1="310" y1="200.3" x2="310" y2="274.78" stroke="#111" stroke-width="1.35"/>
<line x1="306.8" y1="274.1" x2="310" y2="274.1" stroke="#111" stroke-width="1.35"/>
<text x="303.8" y="276.45" font-size="7" text-anchor="end" fill="#151515" font-weight="normal" textLength="4" lengthAdjust="spacingAndGlyphs" style="">0</text>
<line x1="306.8" y1="256.3" x2="310" y2="256.3" stroke="#111" stroke-width="1.35"/>
<text x="303.8" y="258.65" font-size="7" text-anchor="end" fill="#151515" font-weight="normal" textLength="12" lengthAdjust="spacingAndGlyphs" style="">200</text>
<line x1="306.8" y1="238.5" x2="310" y2="238.5" stroke="#111" stroke-width="1.35"/>
<text x="303.8" y="240.85" font-size="7" text-anchor="end" fill="#151515" font-weight="normal" textLength="12" lengthAdjust="spacingAndGlyphs" style="">400</text>
<line x1="306.8" y1="220.7" x2="310" y2="220.7" stroke="#111" stroke-width="1.35"/>
<text x="303.8" y="223.05" font-size="7" text-anchor="end" fill="#151515" font-weight="normal" textLength="12" lengthAdjust="spacingAndGlyphs" style="">600</text>
<line x1="306.8" y1="202.9" x2="310" y2="202.9" stroke="#111" stroke-width="1.35"/>
<text x="303.8" y="205.25" font-size="7" text-anchor="end" fill="#151515" font-weight="normal" textLength="12" lengthAdjust="spacingAndGlyphs" style="">800</text>
<line x1="309.32" y1="274.1" x2="382.9" y2="274.1" stroke="#111" stroke-width="1.35"/>
<line x1="316.2" y1="274.1" x2="316.2" y2="277.3" stroke="#111" stroke-width="1.35"/>
<line x1="328.1" y1="274.1" x2="328.1" y2="277.3" stroke="#111" stroke-width="1.35"/>
<line x1="340.4" y1="274.1" x2="340.4" y2="277.3" stroke="#111" stroke-width="1.35"/>
<line x1="352.4" y1="274.1" x2="352.4" y2="277.3" stroke="#111" stroke-width="1.35"/>
<line x1="364.7" y1="274.1" x2="364.7" y2="277.3" stroke="#111" stroke-width="1.35"/>
<line x1="376.7" y1="274.1" x2="376.7" y2="277.3" stroke="#111" stroke-width="1.35"/>
<rect x="312.7" y="273.5" width="6.7" height="0.6" fill="#a5062e" stroke="#6e0b22" stroke-width="0.6"/>
<rect x="324.1" y="271.6" width="8.3" height="2.5" fill="#a5062e" stroke="#6e0b22" stroke-width="0.6"/>
<line x1="328.5" y1="269.4" x2="328.5" y2="271.3" stroke="#111" stroke-width="1"/>
<line x1="325.9" y1="269.4" x2="330.5" y2="269.4" stroke="#111" stroke-width="1.2"/>
<rect x="336.5" y="236.8" width="8" height="37.3" fill="#a5062e" stroke="#6e0b22" stroke-width="0.6"/>
<line x1="340.5" y1="221.4" x2="340.5" y2="236.5" stroke="#111" stroke-width="1"/>
<line x1="337.9" y1="221.4" x2="342.9" y2="221.4" stroke="#111" stroke-width="1.2"/>
<rect x="360.5" y="273.5" width="8.3" height="0.6" fill="#2c4b8c" stroke="#1c2f5c" stroke-width="0.6"/>
<rect x="372.6" y="250.9" width="8.4" height="23.2" fill="#2c4b8c" stroke="#1c2f5c" stroke-width="0.6"/>
<line x1="376.5" y1="228.7" x2="376.5" y2="250.6" stroke="#111" stroke-width="1"/>
<line x1="374.6" y1="228.7" x2="378.8" y2="228.7" stroke="#111" stroke-width="1.2"/>
<path d="M328.1 218.6 V216.6 H364.7 V218.6" fill="none" stroke="#111" stroke-width="1"/>
<text x="346.2" y="214" font-size="6.4" text-anchor="middle" fill="#1e1e1e" textLength="24.6" lengthAdjust="spacingAndGlyphs"><tspan font-style="italic">P</tspan>=0.281</text>
<path d="M339.5 206.1 V204.1 H376.4 V206.1" fill="none" stroke="#111" stroke-width="1"/>
<text x="358.2" y="201.5" font-size="6.4" text-anchor="middle" fill="#1e1e1e" textLength="24.6" lengthAdjust="spacingAndGlyphs"><tspan font-style="italic">P</tspan>=0.688</text>
<text transform="translate(274.3,237.45) rotate(-90)" x="0" y="0" font-size="8.6" font-weight="bold" text-anchor="middle" fill="#333" textLength="52.5" lengthAdjust="spacingAndGlyphs">2-LTR circle copies</text>
<text transform="translate(284.5,237.85) rotate(-90)" x="0" y="0" font-size="8.6" font-weight="bold" text-anchor="middle" fill="#333" textLength="34.7" lengthAdjust="spacingAndGlyphs">per 500 cells</text>
<text x="316.2" y="285.8" font-size="6" text-anchor="middle" fill="#9a9a9a" font-weight="normal" style="">-</text>
<text x="328.1" y="287" font-size="6.8" text-anchor="middle" fill="#151515" font-weight="normal" textLength="8.6" lengthAdjust="spacingAndGlyphs" style="">X4</text>
<text x="340.4" y="287" font-size="6.8" text-anchor="middle" fill="#151515" font-weight="normal" textLength="8.6" lengthAdjust="spacingAndGlyphs" style="">R5</text>
<text x="352.4" y="285.8" font-size="6" text-anchor="middle" fill="#9a9a9a" font-weight="normal" style="">-</text>
<text x="364.7" y="287" font-size="6.8" text-anchor="middle" fill="#151515" font-weight="normal" textLength="8.6" lengthAdjust="spacingAndGlyphs" style="">X4</text>
<text x="376.7" y="287" font-size="6.8" text-anchor="middle" fill="#151515" font-weight="normal" textLength="8.6" lengthAdjust="spacingAndGlyphs" style="">R5</text>
<path d="M311.2 289.5 V291.5 H345 V289.5" fill="none" stroke="#111" stroke-width="1"/>
<path d="M347.2 289.5 V291.5 H383.5 V289.5" fill="none" stroke="#111" stroke-width="1"/>
<text x="328" y="300.2" font-size="7" text-anchor="middle" fill="#151515" font-weight="normal" textLength="16.2" lengthAdjust="spacingAndGlyphs" style="">Mock</text>
<text x="364.95" y="300.2" font-size="7" text-anchor="middle" fill="#151515" font-weight="normal" textLength="20.4" lengthAdjust="spacingAndGlyphs" style="">HCMV</text>
<line x1="437.9" y1="200.4" x2="437.9" y2="274.78" stroke="#111" stroke-width="1.35"/>
<line x1="434.7" y1="274.2" x2="437.9" y2="274.2" stroke="#111" stroke-width="1.35"/>
<text x="431.6" y="276.55" font-size="7" text-anchor="end" fill="#151515" font-weight="normal" textLength="4" lengthAdjust="spacingAndGlyphs" style="">0</text>
<line x1="434.7" y1="260" x2="437.9" y2="260" stroke="#111" stroke-width="1.35"/>
<text x="431.6" y="262.35" font-size="7" text-anchor="end" fill="#151515" font-weight="normal" textLength="8" lengthAdjust="spacingAndGlyphs" style="">50</text>
<line x1="434.7" y1="245.7" x2="437.9" y2="245.7" stroke="#111" stroke-width="1.35"/>
<text x="431.6" y="248.05" font-size="7" text-anchor="end" fill="#151515" font-weight="normal" textLength="12" lengthAdjust="spacingAndGlyphs" style="">100</text>
<line x1="434.7" y1="231.5" x2="437.9" y2="231.5" stroke="#111" stroke-width="1.35"/>
<text x="431.6" y="233.85" font-size="7" text-anchor="end" fill="#151515" font-weight="normal" textLength="12" lengthAdjust="spacingAndGlyphs" style="">150</text>
<line x1="434.7" y1="217.3" x2="437.9" y2="217.3" stroke="#111" stroke-width="1.35"/>
<text x="431.6" y="219.65" font-size="7" text-anchor="end" fill="#151515" font-weight="normal" textLength="12" lengthAdjust="spacingAndGlyphs" style="">200</text>
<line x1="434.7" y1="203" x2="437.9" y2="203" stroke="#111" stroke-width="1.35"/>
<text x="431.6" y="205.35" font-size="7" text-anchor="end" fill="#151515" font-weight="normal" textLength="12" lengthAdjust="spacingAndGlyphs" style="">250</text>
<line x1="437.22" y1="274.1" x2="511.1" y2="274.1" stroke="#111" stroke-width="1.35"/>
<line x1="443.9" y1="274.1" x2="443.9" y2="277.3" stroke="#111" stroke-width="1.35"/>
<line x1="456.4" y1="274.1" x2="456.4" y2="277.3" stroke="#111" stroke-width="1.35"/>
<line x1="468.5" y1="274.1" x2="468.5" y2="277.3" stroke="#111" stroke-width="1.35"/>
<line x1="480.7" y1="274.1" x2="480.7" y2="277.3" stroke="#111" stroke-width="1.35"/>
<line x1="492.8" y1="274.1" x2="492.8" y2="277.3" stroke="#111" stroke-width="1.35"/>
<line x1="505.1" y1="274.1" x2="505.1" y2="277.3" stroke="#111" stroke-width="1.35"/>
<rect x="442.1" y="273.5" width="4.4" height="0.6" fill="#a5062e" stroke="#6e0b22" stroke-width="0.6"/>
<line x1="443" y1="272.9" x2="445.6" y2="272.9" stroke="#5a1020" stroke-width="0.8"/>
<rect x="476.6" y="251.3" width="8" height="22.8" fill="#2c4b8c" stroke="#1c2f5c" stroke-width="0.6"/>
<line x1="480.5" y1="244.6" x2="480.5" y2="251" stroke="#111" stroke-width="1"/>
<line x1="478.3" y1="244.6" x2="482.9" y2="244.6" stroke="#111" stroke-width="1.2"/>
<rect x="488.7" y="238.1" width="8.3" height="36" fill="#2c4b8c" stroke="#1c2f5c" stroke-width="0.6"/>
<line x1="492.5" y1="223.3" x2="492.5" y2="237.8" stroke="#111" stroke-width="1"/>
<line x1="490.4" y1="223.3" x2="495.4" y2="223.3" stroke="#111" stroke-width="1.2"/>
<rect x="500.9" y="234.3" width="8.3" height="39.8" fill="#2c4b8c" stroke="#1c2f5c" stroke-width="0.6"/>
<line x1="505.5" y1="218" x2="505.5" y2="234" stroke="#111" stroke-width="1"/>
<line x1="502.6" y1="218" x2="507.6" y2="218" stroke="#111" stroke-width="1.2"/>
<path d="M445.3 233 V231 H479.9 V233" fill="none" stroke="#111" stroke-width="1"/>
<circle cx="462.6" cy="225.6" r="1.1" fill="#1a1a1a"/>
<path d="M479.5 219.1 V217.1 H492.4 V219.1" fill="none" stroke="#111" stroke-width="1"/>
<text x="486" y="215" font-size="6.4" text-anchor="middle" fill="#1e1e1e" textLength="24.6" lengthAdjust="spacingAndGlyphs"><tspan font-style="italic">P</tspan>=0.164</text>
<path d="M479.5 206.6 V204.6 H505.4 V206.6" fill="none" stroke="#111" stroke-width="1"/>
<text x="492.7" y="202.3" font-size="6.4" text-anchor="middle" fill="#1e1e1e" textLength="24.6" lengthAdjust="spacingAndGlyphs"><tspan font-style="italic">P</tspan>=0.183</text>
<text transform="translate(402.2,236.3) rotate(-90)" x="0" y="0" font-size="8.6" font-weight="bold" text-anchor="middle" fill="#333" textLength="46" lengthAdjust="spacingAndGlyphs">HCMV DNA copies</text>
<text transform="translate(412.9,237.6) rotate(-90)" x="0" y="0" font-size="8.6" font-weight="bold" text-anchor="middle" fill="#333" textLength="34.2" lengthAdjust="spacingAndGlyphs">per 100 cells</text>
<text x="443.9" y="285.8" font-size="6" text-anchor="middle" fill="#9a9a9a" font-weight="normal" style="">-</text>
<text x="456.4" y="287" font-size="6.8" text-anchor="middle" fill="#151515" font-weight="normal" textLength="8.6" lengthAdjust="spacingAndGlyphs" style="">X4</text>
<text x="468.5" y="287" font-size="6.8" text-anchor="middle" fill="#151515" font-weight="normal" textLength="8.6" lengthAdjust="spacingAndGlyphs" style="">R5</text>
<text x="480.7" y="285.8" font-size="6" text-anchor="middle" fill="#9a9a9a" font-weight="normal" style="">-</text>
<text x="492.8" y="287" font-size="6.8" text-anchor="middle" fill="#151515" font-weight="normal" textLength="8.6" lengthAdjust="spacingAndGlyphs" style="">X4</text>
<text x="505.1" y="287" font-size="6.8" text-anchor="middle" fill="#151515" font-weight="normal" textLength="8.6" lengthAdjust="spacingAndGlyphs" style="">R5</text>
<path d="M438.9 289.7 V291.7 H473.6 V289.7" fill="none" stroke="#111" stroke-width="1"/>
<path d="M475.4 289.7 V291.7 H509.6 V289.7" fill="none" stroke="#111" stroke-width="1"/>
<text x="456.15" y="300.2" font-size="7" text-anchor="middle" fill="#151515" font-weight="normal" textLength="16.2" lengthAdjust="spacingAndGlyphs" style="">Mock</text>
<text x="492.1" y="300.2" font-size="7" text-anchor="middle" fill="#151515" font-weight="normal" textLength="20.4" lengthAdjust="spacingAndGlyphs" style="">HCMV</text>
<rect x="1" y="1" width="518" height="1" fill="#8a8a8a"/>
<rect x="1" y="1" width="1" height="307" fill="#8a8a8a"/>
<rect x="518" y="1" width="1" height="307" fill="#808080"/>
<rect x="1" y="307" width="518" height="1" fill="#555"/>
<rect x="0" y="0" width="520" height="1" fill="#000"/>
<rect x="0" y="0" width="1" height="309" fill="#000"/>
<rect x="519" y="0" width="1" height="309" fill="#000"/>
<rect x="0" y="308" width="520" height="1" fill="#000"/>
</svg>
</body></html>
